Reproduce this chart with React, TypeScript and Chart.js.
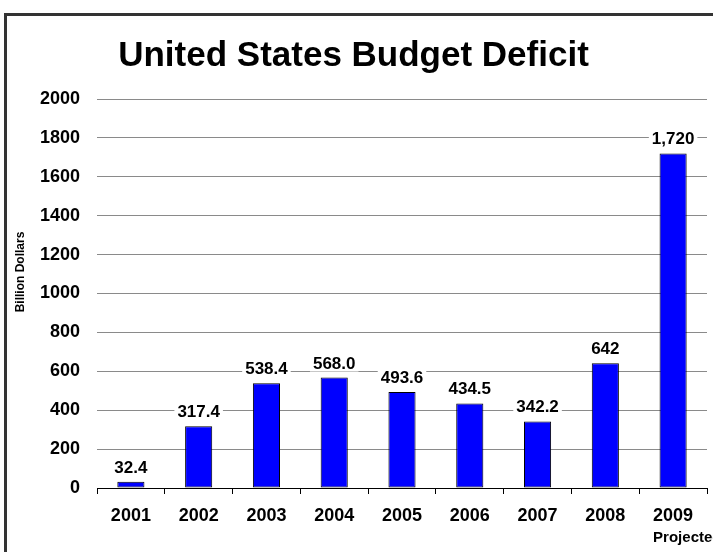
import { useEffect, useRef } from "react";
import { Chart, registerables } from "chart.js";

Chart.register(...registerables);

const chartTitle = "United States Budget Deficit";
const yAxisTitle = "Billion Dollars";
const years = ["2001", "2002", "2003", "2004", "2005", "2006", "2007", "2008", "2009"];
const deficits = [32.4, 317.4, 538.4, 568.0, 493.6, 434.5, 342.2, 642, 1720];
const valueLabels = ["32.4", "317.4", "538.4", "568.0", "493.6", "434.5", "342.2", "642", "1,720"];
const yMin = 0;
const yMax = 2000;
const yStep = 200;
const lastYearNote = "Projected";

const FONT = "'Liberation Sans', Arial, Helvetica, sans-serif";

const overlayPlugin = {
  id: "overlayText",
  afterDatasetsDraw(chart: any) {
    const ctx = chart.ctx as CanvasRenderingContext2D;
    const meta = chart.getDatasetMeta(0);
    ctx.save();
    ctx.font = `bold 17px ${FONT}`;
    ctx.textAlign = "center";
    ctx.textBaseline = "alphabetic";
    meta.data.forEach((bar: any, i: number) => {
      const text = valueLabels[i];
      const w = ctx.measureText(text).width;
      const y = bar.y - 9;
      ctx.fillStyle = "#ffffff";
      ctx.fillRect(bar.x - w / 2 - 3, y - 14, w + 6, 17);
      ctx.fillStyle = "#000000";
      ctx.fillText(text, bar.x, y);
    });
    ctx.restore();

    // y-axis title
    ctx.save();
    ctx.translate(21, 272);
    ctx.rotate(-Math.PI / 2);
    ctx.font = `bold 12px ${FONT}`;
    ctx.fillStyle = "#000";
    ctx.textAlign = "center";
    ctx.textBaseline = "middle";
    ctx.fillText(yAxisTitle, 0, 0);
    ctx.restore();

    // note under last year
    const xs = chart.scales.x;
    const px = xs.getPixelForValue(years.length - 1);
    ctx.save();
    ctx.font = `bold 15px ${FONT}`;
    ctx.fillStyle = "#000";
    ctx.textAlign = "left";
    ctx.textBaseline = "middle";
    ctx.fillText(lastYearNote, px - 20, 538);
    ctx.restore();
  },
};

export default function App() {
  const ref = useRef<HTMLCanvasElement | null>(null);

  useEffect(() => {
    if (!ref.current) return;
    Chart.defaults.font.family = FONT;
    const chart = new Chart(ref.current, {
      type: "bar",
      data: {
        labels: years,
        datasets: [
          {
            data: deficits,
            backgroundColor: "#0000ff",
            borderColor: "#000000",
            borderWidth: 1,
            borderSkipped: false,
            barPercentage: 0.4,
            categoryPercentage: 1.0,
          },
        ],
      },
      options: {
        responsive: false,
        animation: false,
        devicePixelRatio: 1,
        layout: { padding: { top: 0, left: 0, right: 6, bottom: 0 } },
        plugins: {
          legend: { display: false },
          tooltip: { enabled: false },
          title: {
            display: true,
            text: chartTitle,
            color: "#000",
            font: { size: 35, weight: "bold", family: FONT },
            padding: { top: 35, bottom: 22 },
          },
        },
        scales: {
          x: {
            grid: {
              offset: true,
              drawOnChartArea: false,
              drawTicks: true,
              tickLength: 6,
              color: "#000",
            },
            border: { display: true, color: "#000", width: 1 },
            ticks: {
              color: "#000",
              font: { size: 18, weight: "bold", family: FONT },
              padding: 11,
              maxRotation: 0,
              autoSkip: false,
            },
            afterFit: (s: any) => {
              s.height = 64;
            },
          },
          y: {
            min: yMin,
            max: yMax,
            ticks: {
              stepSize: yStep,
              color: "#000",
              font: { size: 18, weight: "bold", family: FONT },
              padding: 17,
              callback: (v: any) => String(v),
            },
            grid: {
              drawTicks: false,
              color: (c: any) => (c.tick && c.tick.value === 0 ? "#000" : "#8a8a8a"),
              lineWidth: 1,
            },
            border: { display: false },
            afterFit: (s: any) => {
              s.width = 97;
            },
          },
        },
      },
      plugins: [overlayPlugin],
    });
    return () => chart.destroy();
  }, []);

  return (
    <div
      style={{
        position: "fixed",
        left: 0,
        top: 0,
        width: 713,
        height: 552,
        overflow: "hidden",
        background: "#fff",
      }}
    >
      <div
        style={{
          position: "absolute",
          left: 4,
          top: 13,
          width: 800,
          height: 700,
          borderTop: "3px solid #333",
          borderLeft: "3px solid #333",
        }}
      />
      <canvas
        ref={ref}
        width={713}
        height={552}
        style={{ position: "absolute", left: 0, top: 0, width: 713, height: 552 }}
      />
    </div>
  );
}
